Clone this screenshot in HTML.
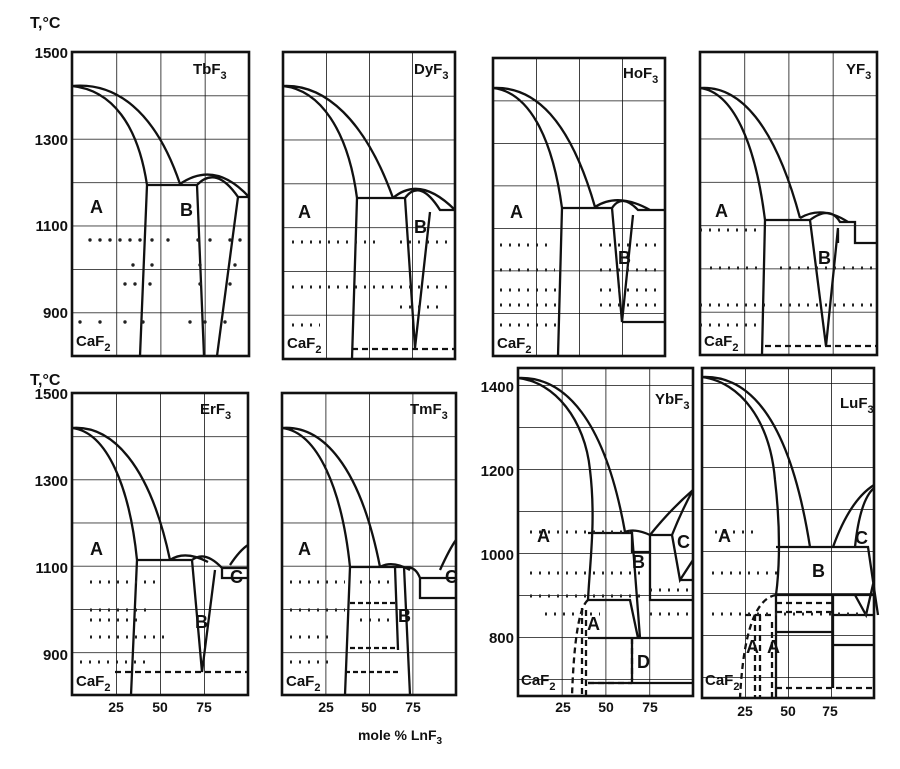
<!DOCTYPE html>
<html><head><style>
body{margin:0;background:#fff;}
svg text{font-family:"Liberation Sans",sans-serif;font-weight:bold;fill:#111;}
</style></head><body>
<svg width="900" height="764" viewBox="0 0 900 764" xmlns="http://www.w3.org/2000/svg">
<defs>
<pattern id="g1" x="72" y="52" width="44.25" height="43.4" patternUnits="userSpaceOnUse"><path d="M0,0V43.4M0,0H44.25" stroke="#111" stroke-width="1.6" fill="none"/></pattern>
<pattern id="g2" x="283" y="52" width="43" height="43.8" patternUnits="userSpaceOnUse"><path d="M0,0V43.8M0,0H43" stroke="#111" stroke-width="1.6" fill="none"/></pattern>
<pattern id="g3" x="493" y="58" width="43" height="42.5" patternUnits="userSpaceOnUse"><path d="M0,0V42.5M0,0H43" stroke="#111" stroke-width="1.6" fill="none"/></pattern>
<pattern id="g4" x="700" y="52" width="44.25" height="43.3" patternUnits="userSpaceOnUse"><path d="M0,0V43.3M0,0H44.25" stroke="#111" stroke-width="1.6" fill="none"/></pattern>
<pattern id="g5" x="72" y="393" width="44" height="43.2" patternUnits="userSpaceOnUse"><path d="M0,0V43.2M0,0H44" stroke="#111" stroke-width="1.6" fill="none"/></pattern>
<pattern id="g6" x="282" y="393" width="43.5" height="43.2" patternUnits="userSpaceOnUse"><path d="M0,0V43.2M0,0H43.5" stroke="#111" stroke-width="1.6" fill="none"/></pattern>
<pattern id="g7" x="518" y="385" width="43.75" height="42" patternUnits="userSpaceOnUse"><path d="M0,0V42M0,0H43.75" stroke="#111" stroke-width="1.6" fill="none"/></pattern>
<pattern id="g8" x="702" y="383" width="43" height="42" patternUnits="userSpaceOnUse"><path d="M0,0V42M0,0H43" stroke="#111" stroke-width="1.6" fill="none"/></pattern>
</defs>
<g stroke="#111" stroke-width="2.6">
<rect x="72" y="52" width="177" height="304" fill="url(#g1)"/>
<rect x="283" y="52" width="172" height="307" fill="url(#g2)"/>
<rect x="493" y="58" width="172" height="298" fill="url(#g3)"/>
<rect x="700" y="52" width="177" height="303" fill="url(#g4)"/>
<rect x="72" y="393" width="176" height="302" fill="url(#g5)"/>
<rect x="282" y="393" width="174" height="302" fill="url(#g6)"/>
<rect x="518" y="368" width="175" height="328" fill="url(#g7)"/>
<rect x="702" y="368" width="172" height="330" fill="url(#g8)"/>
</g>
<g stroke="#111" stroke-width="2.3" fill="none">
<path d="M72,86C115,82 155,110 180,184M72,86C112,90 138,125 147,185H197M147,185L140,356M197,185L204,356M180,184Q215,160 249,197M197,185Q216,165 238,197H249M238,197L217,356"/>
<path d="M283,86C325,84 365,120 393,198M283,86C320,90 348,130 357,198H405M357,198L352,359M405,198L415,348L430,212M393,198Q420,175 455,210M405,198Q420,178 440,210H455"/>
<path d="M352,349H455" stroke-dasharray="6,4"/>
<path d="M493,88C535,86 570,120 595,207M493,88C528,92 552,135 562,208H612M562,208L558,356M612,208L622,322L633,215M595,207Q618,192 650,210M612,208Q622,193 638,210H665M622,322H665"/>
<path d="M700,88C740,85 775,125 800,218M700,88C732,92 755,140 765,220H810M765,220L762,355M810,220L826,346L838,228M800,218Q822,205 848,222M810,220Q830,205 840,222H855V243H877M838,230V243"/>
<path d="M765,346H877" stroke-dasharray="6,4"/>
<path d="M72,428C112,425 150,465 170,560M72,428C108,432 130,490 137,560H192M137,560L131,695M192,560L202,672L215,570M170,560Q185,550 208,562M192,560Q205,550 222,568H248M222,568V578H248M230,565Q240,550 248,545"/>
<path d="M115,672H248" stroke-dasharray="6,4"/>
<path d="M282,428C322,425 360,465 380,567M282,428C318,432 342,490 350,567H404M350,567L345,695M395,567L398,650M404,567L410,695M380,567Q392,560 410,570M404,568Q415,565 420,578H456M420,578V598H456M440,570Q450,548 456,540"/>
<path d="M350,603H398M350,648H398M345,672H400" stroke-dasharray="5,3"/>
<path d="M518,378C565,376 605,420 625,532M518,378C555,382 585,420 590,470C596,520 590,560 588,600M588,533H632V552H650M632,533L640,638M625,532Q635,528 650,535H672L680,580H693M672,535L680,580L693,560M650,535Q670,510 693,490M672,535Q682,510 693,490M650,535V600H693M588,600H630L638,638H693M588,638H640M632,638V680M588,683H693"/>
<path d="M588,600Q575,610 572,696M582,608V696M586,610V696M588,683H632M632,638V683" stroke-dasharray="6,4"/>
<path d="M702,377C750,375 790,420 810,547M702,377C740,382 770,420 775,480C782,540 778,580 776,595H833V688M776,547H833M833,547H868L878,615M855,547Q860,500 874,488M833,547Q850,500 874,485M833,595H874M855,595L866,615L874,580M833,615H874M776,632H833M833,645H874M776,595V698"/>
<path d="M776,595Q745,600 740,698M755,615V698M760,615V698M772,622V698M776,603H833M776,612H833M776,688H874M745,615H776" stroke-dasharray="6,4"/>
</g>
<g fill="#222">
<circle cx="90" cy="240" r="1.7"/><circle cx="100" cy="240" r="1.7"/><circle cx="110" cy="240" r="1.7"/><circle cx="120" cy="240" r="1.7"/><circle cx="130" cy="240" r="1.7"/><circle cx="140" cy="240" r="1.7"/><circle cx="152" cy="240" r="1.7"/><circle cx="168" cy="240" r="1.7"/><circle cx="198" cy="240" r="1.7"/><circle cx="210" cy="240" r="1.7"/><circle cx="230" cy="240" r="1.7"/><circle cx="240" cy="240" r="1.7"/>
<circle cx="133" cy="265" r="1.7"/><circle cx="152" cy="265" r="1.7"/><circle cx="200" cy="265" r="1.7"/><circle cx="235" cy="265" r="1.7"/>
<circle cx="125" cy="284" r="1.7"/><circle cx="135" cy="284" r="1.7"/><circle cx="150" cy="284" r="1.7"/><circle cx="200" cy="284" r="1.7"/><circle cx="230" cy="284" r="1.7"/>
<circle cx="80" cy="322" r="1.7"/><circle cx="100" cy="322" r="1.7"/><circle cx="125" cy="322" r="1.7"/><circle cx="143" cy="322" r="1.7"/><circle cx="190" cy="322" r="1.7"/><circle cx="205" cy="322" r="1.7"/><circle cx="225" cy="322" r="1.7"/>
</g>
<g stroke="#222" stroke-width="3" stroke-dasharray="2,7" fill="none">
<path d="M292,242H380M400,242H450M292,287H450M292,325H320M400,307H440M700,230H760M710,268H760M700,305H770M700,325H760M780,268H877M780,305H877M500,245H550M500,270H555M500,290H560M500,305H560M500,325H560M600,245H660M600,270H660M600,290H660M600,305H660M90,582H160M90,610H150M90,637H170M80,662H150M90,620H140M290,582H345M360,582H390M290,610H345M290,637H330M290,662H330M360,620H390M530,532H630M530,573H640M530,596H640M545,614H600M650,590H690M650,614H690M715,532H760M712,573H780M712,614H874"/>
</g>
<g font-size="18">
<text x="90" y="213">A</text><text x="180" y="216">B</text>
<text x="298" y="218">A</text><text x="414" y="233">B</text>
<text x="510" y="218">A</text><text x="618" y="264">B</text>
<text x="715" y="217">A</text><text x="818" y="264">B</text>
<text x="90" y="555">A</text><text x="195" y="628">B</text><text x="230" y="583">C</text>
<text x="298" y="555">A</text><text x="398" y="622">B</text><text x="445" y="583">C</text>
<text x="537" y="542">A</text><text x="632" y="568">B</text><text x="677" y="548">C</text><text x="587" y="630">A</text><text x="637" y="668">D</text>
<text x="718" y="542">A</text><text x="812" y="577">B</text><text x="855" y="544">C</text><text x="746" y="653">A</text><text x="767" y="653">A</text>
</g>
<g font-size="15">
<text x="193" y="74">TbF<tspan font-size="11" dy="5">3</tspan></text>
<text x="414" y="74">DyF<tspan font-size="11" dy="5">3</tspan></text>
<text x="623" y="78">HoF<tspan font-size="11" dy="5">3</tspan></text>
<text x="846" y="74">YF<tspan font-size="11" dy="5">3</tspan></text>
<text x="200" y="414">ErF<tspan font-size="11" dy="5">3</tspan></text>
<text x="410" y="414">TmF<tspan font-size="11" dy="5">3</tspan></text>
<text x="655" y="404">YbF<tspan font-size="11" dy="5">3</tspan></text>
<text x="840" y="408">LuF<tspan font-size="11" dy="5">3</tspan></text>
<text x="76" y="346">CaF<tspan font-size="11" dy="5">2</tspan></text>
<text x="287" y="348">CaF<tspan font-size="11" dy="5">2</tspan></text>
<text x="497" y="348">CaF<tspan font-size="11" dy="5">2</tspan></text>
<text x="704" y="346">CaF<tspan font-size="11" dy="5">2</tspan></text>
<text x="76" y="686">CaF<tspan font-size="11" dy="5">2</tspan></text>
<text x="286" y="686">CaF<tspan font-size="11" dy="5">2</tspan></text>
<text x="521" y="685">CaF<tspan font-size="11" dy="5">2</tspan></text>
<text x="705" y="685">CaF<tspan font-size="11" dy="5">2</tspan></text>
</g>
<g font-size="15" text-anchor="end">
<text x="68" y="58">1500</text><text x="68" y="145">1300</text><text x="68" y="231">1100</text><text x="68" y="318">900</text>
<text x="68" y="399">1500</text><text x="68" y="486">1300</text><text x="68" y="573">1100</text><text x="68" y="660">900</text>
<text x="514" y="392">1400</text><text x="514" y="476">1200</text><text x="514" y="560">1000</text><text x="514" y="643">800</text>
</g>
<g font-size="16"><text x="30" y="28">T,°C</text><text x="30" y="385">T,°C</text></g>
<g font-size="14" text-anchor="middle">
<text x="116" y="712">25</text><text x="160" y="712">50</text><text x="204" y="712">75</text>
<text x="326" y="712">25</text><text x="369" y="712">50</text><text x="413" y="712">75</text>
<text x="563" y="712">25</text><text x="606" y="712">50</text><text x="650" y="712">75</text>
<text x="745" y="716">25</text><text x="788" y="716">50</text><text x="830" y="716">75</text>
<text x="400" y="740">mole % LnF<tspan font-size="10" dy="4">3</tspan></text>
</g>
</svg>
</body></html>
